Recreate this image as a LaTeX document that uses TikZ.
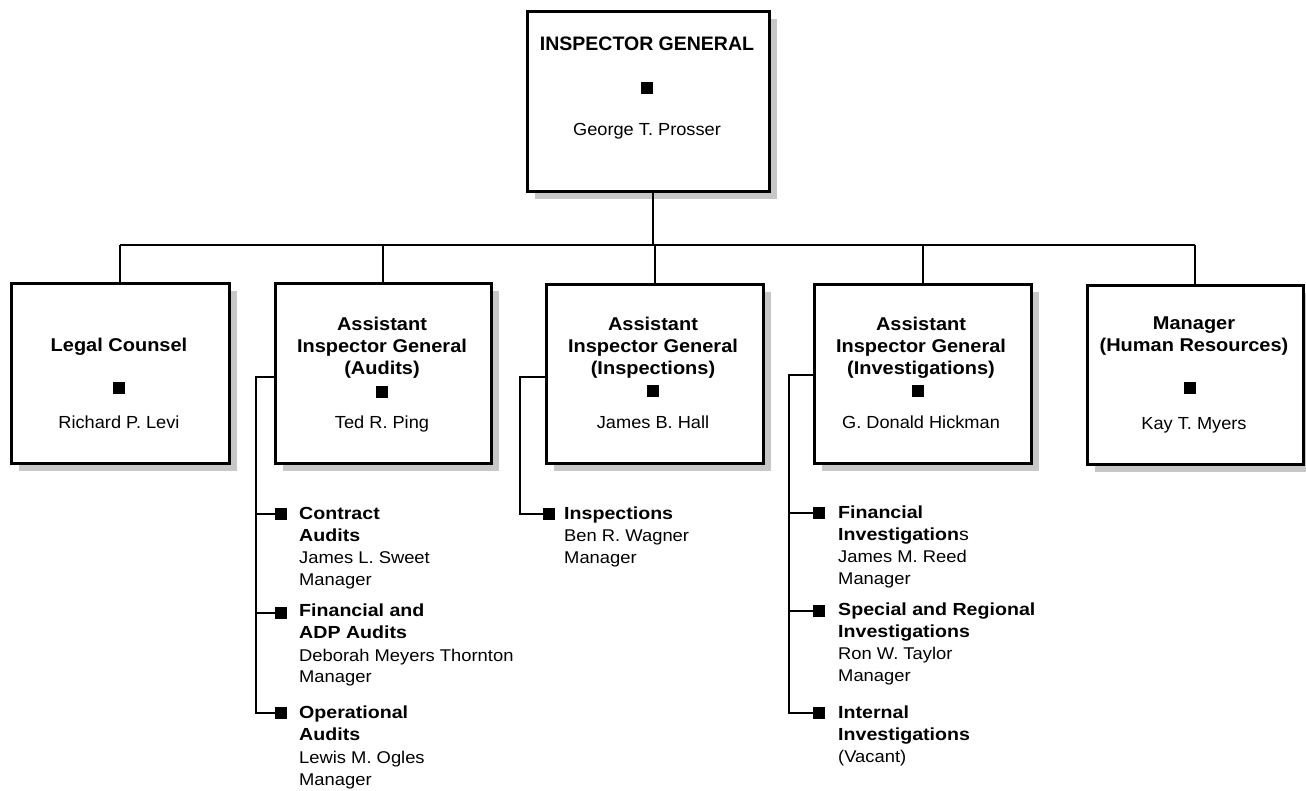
\documentclass[tikz,border=0pt]{standalone}
\usepackage{fontspec}
\setmainfont{Liberation Sans}
\newfontfamily\titlefont[FakeStretch=1.08]{Liberation Sans}
\newfontfamily\namefont[FakeStretch=1.04]{Liberation Sans}
\newfontfamily\subfont[FakeStretch=1.08]{Liberation Sans}
\newfontfamily\subbfont[FakeStretch=1.12]{Liberation Sans}
\usetikzlibrary{shadows}
\tikzset{
  box/.style={draw=black, line width=2.6pt, fill=white, inner sep=0pt, anchor=north west,
    general shadow={fill=black!22, shadow xshift=8pt, shadow yshift=-8pt}},
  bigttl/.style={font=\bfseries\fontsize{19.5}{22}\selectfont, anchor=mid, inner sep=0pt},
  ttl/.style={font=\titlefont\bfseries\fontsize{18.5}{21.5}\selectfont, anchor=mid, inner sep=0pt},
  nm/.style={font=\namefont\fontsize{17.5}{22}\selectfont, anchor=mid, inner sep=0pt},
  sq/.style={fill=black, minimum size=12pt, inner sep=0pt},
  subb/.style={font=\subbfont\bfseries\fontsize{17.5}{22}\selectfont, anchor=mid west, inner sep=0pt},
  subr/.style={font=\subfont\fontsize{17}{22}\selectfont, anchor=mid west, inner sep=0pt},
  conn/.style={draw=black, line width=2pt},
}
\begin{document}
\begin{tikzpicture}[x=1pt,y=-1pt]
\useasboundingbox (0,0) rectangle (1306,790);
% ---------- boxes ----------
\node[box, minimum width=242pt, minimum height=180pt] (ig) at (526,10) {};
\node[box, minimum width=218pt, minimum height=180pt] (lc) at (10,282) {};
\node[box, minimum width=216pt, minimum height=180pt] (au) at (274,282) {};
\node[box, minimum width=217pt, minimum height=179pt] (in) at (545,283) {};
\node[box, minimum width=217pt, minimum height=179pt] (iv) at (813,283) {};
\node[box, minimum width=216pt, minimum height=179pt] (hr) at (1086,284) {};
% ---------- top box text ----------
\node[bigttl] (ig-t) at (647,48) {INSPECTOR GENERAL};
\node[sq] (ig-s) at (647,88) {};
\node[nm] (ig-n) at (647,133) {George T. Prosser};
% ---------- Legal counsel ----------
\node[ttl] (lc-t) at (119,349) {Legal Counsel};
\node[sq] (lc-s) at (119,388) {};
\node[nm] (lc-n) at (119,426) {Richard P. Levi};
% ---------- Audits ----------
\node[ttl] (au-t1) at (382,328) {Assistant};
\node[ttl] (au-t2) at (382,350) {Inspector General};
\node[ttl] (au-t3) at (382,372) {(Audits)};
\node[sq] (au-s) at (382,392) {};
\node[nm] (au-n) at (382,426) {Ted R. Ping};
% ---------- Inspections ----------
\node[ttl] (in-t1) at (653,328) {Assistant};
\node[ttl] (in-t2) at (653,350) {Inspector General};
\node[ttl] (in-t3) at (653,372) {(Inspections)};
\node[sq] (in-s) at (653,391) {};
\node[nm] (in-n) at (653,426) {James B. Hall};
% ---------- Investigations ----------
\node[ttl] (iv-t1) at (921,328) {Assistant};
\node[ttl] (iv-t2) at (921,350) {Inspector General};
\node[ttl] (iv-t3) at (921,372) {(Investigations)};
\node[sq] (iv-s) at (918,391) {};
\node[nm] (iv-n) at (921,426) {G. Donald Hickman};
% ---------- HR ----------
\node[ttl] (hr-t1) at (1194,327) {Manager};
\node[ttl] (hr-t2) at (1194,349) {(Human Resources)};
\node[sq] (hr-s) at (1190,388) {};
\node[nm] (hr-n) at (1194,427) {Kay T. Myers};
% ---------- main tree ----------
\coordinate (bus) at (653,245);
\draw[conn] (ig.south -| bus) -- (bus);
\draw[conn] (lc.north |- bus) -- (hr.north |- bus);
\foreach \b in {lc,au,in,iv,hr} { \draw[conn] (\b.north |- bus) -- (\b.north); }
% ---------- Audits sub-units ----------
\node[sq] (au-a) at (281,514) {};
\node[sq] (au-b) at (281,613) {};
\node[sq] (au-c) at (281,713) {};
\node[subb] (au-a1) at (299,517) {Contract};
\node[subb] (au-a2) at (299,539) {Audits};
\node[subr] (au-a3) at (299,561) {James L. Sweet};
\node[subr] (au-a4) at (299,583) {Manager};
\node[subb] (au-b1) at (299,614) {Financial and};
\node[subb] (au-b2) at (299,636) {ADP Audits};
\node[subr] (au-b3) at (299,659) {Deborah Meyers Thornton};
\node[subr] (au-b4) at (299,680) {Manager};
\node[subb] (au-c1) at (299,716) {Operational};
\node[subb] (au-c2) at (299,738) {Audits};
\node[subr] (au-c3) at (299,761) {Lewis M. Ogles};
\node[subr] (au-c4) at (299,783) {Manager};
\coordinate (au-j) at (256,377);
\draw[conn] (au-j -| au.west) -- (au-j) |- (au-c);
\draw[conn] (au-j |- au-a) -- (au-a);
\draw[conn] (au-j |- au-b) -- (au-b);
% ---------- Inspections sub-unit ----------
\node[sq] (in-a) at (549,514) {};
\node[subb] (in-a1) at (564,517) {Inspections};
\node[subr] (in-a2) at (564,539) {Ben R. Wagner};
\node[subr] (in-a3) at (564,561) {Manager};
\coordinate (in-j) at (520,377);
\draw[conn] (in-j -| in.west) -- (in-j) |- (in-a);
% ---------- Investigations sub-units ----------
\node[sq] (iv-a) at (819,513) {};
\node[sq] (iv-b) at (819,611) {};
\node[sq] (iv-c) at (819,713) {};
\node[subb] (iv-a1) at (838,516) {Financial};
\node[subb] (iv-a2) at (838,538) {Investigation{\mdseries s}};
\node[subr] (iv-a3) at (838,560) {James M. Reed};
\node[subr] (iv-a4) at (838,582) {Manager};
\node[subb] (iv-b1) at (838,613) {Special and Regional};
\node[subb] (iv-b2) at (838,635) {Investigations};
\node[subr] (iv-b3) at (838,657) {Ron W. Taylor};
\node[subr] (iv-b4) at (838,679) {Manager};
\node[subb] (iv-c1) at (838,716) {Internal};
\node[subb] (iv-c2) at (838,738) {Investigations};
\node[subr] (iv-c3) at (838,760) {(Vacant)};
\coordinate (iv-j) at (789,375);
\draw[conn] (iv-j -| iv.west) -- (iv-j) |- (iv-c);
\draw[conn] (iv-j |- iv-a) -- (iv-a);
\draw[conn] (iv-j |- iv-b) -- (iv-b);
\end{tikzpicture}
\end{document}
